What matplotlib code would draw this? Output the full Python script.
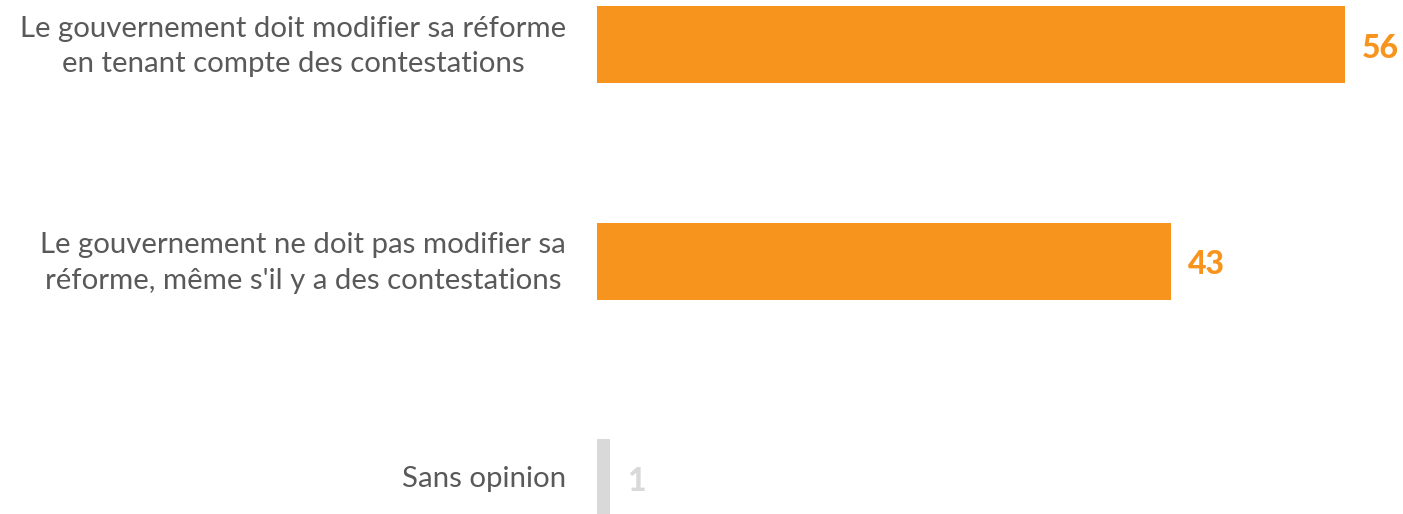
import matplotlib
matplotlib.use("Agg")
import matplotlib.pyplot as plt

categories = [
    "Le gouvernement doit modifier sa réforme\nen tenant compte des contestations",
    "Le gouvernement ne doit pas modifier sa\nréforme, même s'il y a des contestations",
    "Sans opinion",
]
values = [56, 43, 1]
bar_colors = ["#F7941D", "#F7941D", "#D9D9D9"]
label_colors = ["#F7941D", "#F7941D", "#D9D9D9"]

W, H = 1403, 514
fig = plt.figure(figsize=(W / 100, H / 100), dpi=100)
x0, x1 = 597, 1345
ax = fig.add_axes([x0 / W, 0, (x1 - x0) / W, 1])
spacing = 216.5
top = -44.5 / spacing
bottom = (H - 44.5) / spacing
ypos = list(range(len(categories)))
ax.barh(ypos, values, height=77 / spacing, color=bar_colors)
ax.set_xlim(0, max(values))
ax.set_ylim(bottom, top)
ax.axis("off")

for y, v, c, lab in zip(ypos, values, label_colors, categories):
    ax.annotate(str(v), (v, y), xytext=(17, -4), textcoords="offset pixels",
                ha="left", va="center", fontsize=23, fontweight="black", color=c,
                family="Lato")
    ax.annotate(lab, (0, y), xytext=(-31, -2), textcoords="offset pixels",
                ha="right", va="center", multialignment="center", fontsize=21.2,
                color="#595959", family="Lato", linespacing=1.45, annotation_clip=False)

fig.savefig("out.png", dpi=100)
